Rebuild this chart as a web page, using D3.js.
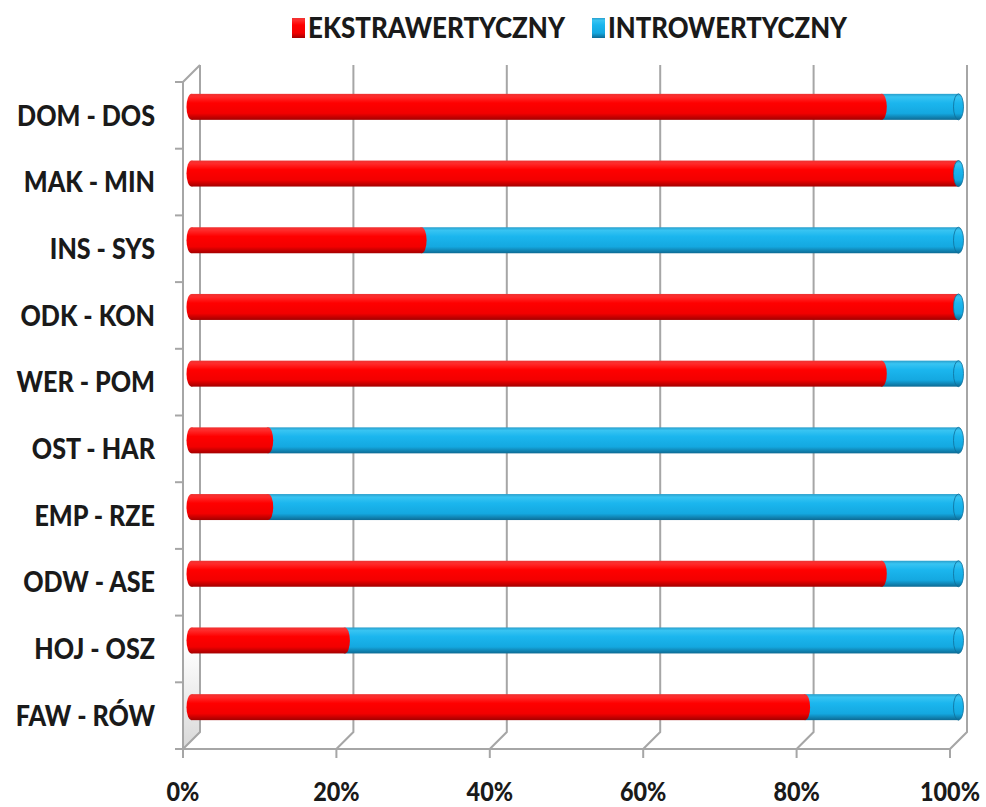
<!DOCTYPE html>
<html><head><meta charset="utf-8">
<script src="https://cdn.jsdelivr.net/npm/d3@7"></script>
<style>
html,body{margin:0;padding:0;background:#fff;}
text{font-family:Lato,"Open Sans",sans-serif;font-weight:900;fill:#1a1a1a;}
</style></head>
<body><svg id="chart" width="986" height="807"></svg>
<script>
const categories = ["DOM - DOS","MAK - MIN","INS - SYS","ODK - KON","WER - POM","OST - HAR","EMP - RZE","ODW - ASE","HOJ - OSZ","FAW - RÓW"];
const extrawertyczny = [90,100,30,100,90,10,10,90,20,80];
const introwertyczny = [10,0,70,0,10,90,90,10,80,20];
const seriesNames = ["EKSTRAWERTYCZNY","INTROWERTYCZNY"];
const tickValues = [0,20,40,60,80,100];
const tickLabels = ["0%","20%","40%","60%","80%","100%"];

const svg = d3.select("#chart");
const x = d3.scaleLinear().domain([0,100]).range([183,950]);
const y = d3.scaleBand().domain(categories).range([82,749]).padding(0);
const DX = 17, DY = -17;       // back wall depth offset
const BX = 8.5, BY = -8.5;     // bar depth offset
const barH = 26;

const defs = svg.append("defs");
function grad(id, stops){
  const g = defs.append("linearGradient").attr("id",id).attr("x1",0).attr("y1",0).attr("x2",0).attr("y2",1);
  stops.forEach(s=>g.append("stop").attr("offset",s[0]).attr("stop-color",s[1]));
}
grad("gred",[[0,"#e33"],[0.12,"#ff2a2a"],[0.35,"#ff0000"],[0.75,"#f20000"],[1,"#a30000"]]);
grad("gblue",[[0,"#2a9fcc"],[0.12,"#38c4f2"],[0.35,"#1bb6ee"],[0.75,"#14a8e0"],[1,"#0d6a93"]]);
grad("gwall",[[0,"#ffffff"],[0.85,"#ffffff"],[1,"#d8d8d8"]]);

// left wall shading
svg.append("path")
  .attr("d",`M${x(0)},${y.range()[0]}L${x(0)+DX},${y.range()[0]+DY}L${x(0)+DX},${y.range()[1]+DY}L${x(0)},${y.range()[1]}Z`)
  .attr("fill","url(#gwall)");

const grid = svg.append("g").attr("stroke","#a6a6a6").attr("stroke-width",2).attr("fill","none");
tickValues.forEach(v=>{
  const xf = x(v), xb = x(v)+DX;
  const yTop = y.range()[0]+DY, yBot = y.range()[1]+DY, yF = y.range()[1];
  if(v>0) grid.append("path").attr("d",`M${xb},${yTop}L${xb},${yBot}L${xf},${yF}L${xf},${yF+9}`);
  else grid.append("path").attr("d",`M${xb},${yTop}L${xb},${yBot}L${xf},${yF}`);
});
grid.append("path").attr("d",`M${x(0)+DX},${y.range()[0]+DY}L${x(0)},${y.range()[0]}L${x(0)},${y.range()[1]+9}`);
grid.append("line").attr("x1",x(0)).attr("x2",x(100)).attr("y1",y.range()[1]).attr("y2",y.range()[1]);
const bounds = categories.map(c=>y(c)).concat([y.range()[1]]);
bounds.forEach(b=>grid.append("line").attr("x1",x(0)-8).attr("x2",x(0)).attr("y1",b).attr("y2",b));

// bars
const stacks = categories.map((c,i)=>{
  const vals=[extrawertyczny[i],introwertyczny[i]];
  let acc=0;
  return vals.map((v,k)=>{const s={c,k,x0:acc,x1:acc+v};acc+=v;return s;});
});
const gBars = svg.append("g");
stacks.forEach(st=>{
  const cy = y(st[0].c)+y.bandwidth()/2+BY;
  const g = gBars.append("g");
  g.append("ellipse").attr("cx",x(0)+BX).attr("cy",cy).attr("rx",5).attr("ry",barH/2)
    .attr("fill","url(#gred)");
  st.forEach(s=>{
    const fill = s.k===0?"url(#gred)":"url(#gblue)";
    if(s.x1>s.x0) g.append("rect").attr("x",x(s.x0)+BX).attr("y",cy-barH/2)
      .attr("width",x(s.x1)-x(s.x0)).attr("height",barH).attr("fill",fill);
  });
  st.forEach(s=>{
    const fill = s.k===0?"url(#gred)":"url(#gblue)";
    if(s.k===1 || s.x1<100) g.append("ellipse").attr("cx",x(s.x1)+BX).attr("cy",cy).attr("rx",5).attr("ry",barH/2)
      .attr("fill",fill).attr("stroke",s.k===1?"#0f6f99":"none").attr("stroke-width",0.8);
  });
});

// category labels
const gl = svg.append("g");
const lbls = gl.selectAll("text").data(categories).join("text")
  .attr("text-anchor","end").attr("font-size",29)
  .attr("dy","0.35em")
  .text(d=>d);
const w0 = lbls.filter((d,i)=>i===0).node().getComputedTextLength();
const k = 138 / w0;
lbls.attr("transform",d=>`translate(155,${y(d)+y.bandwidth()/2}) scale(${k},1)`);

// x tick labels
svg.append("g").selectAll("text").data(tickValues).join("text")
  .attr("text-anchor","middle").attr("font-size",27)
  .attr("transform",(d)=>`translate(${x(d)},801) scale(${k},1)`)
  .text((d,i)=>tickLabels[i]);

// legend
const legend = svg.append("g");
const legX = [292,592], legW=[257,239];
seriesNames.forEach((n,i)=>{
  legend.append("rect").attr("x",legX[i]).attr("y",18).attr("width",13).attr("height",20)
    .attr("fill",i===0?"url(#gred)":"url(#gblue)");
  legend.append("text").attr("x",legX[i]+16).attr("y",38).attr("font-size",29)
    .attr("textLength",legW[i]).attr("lengthAdjust","spacingAndGlyphs").text(n);
});
</script></body></html>
